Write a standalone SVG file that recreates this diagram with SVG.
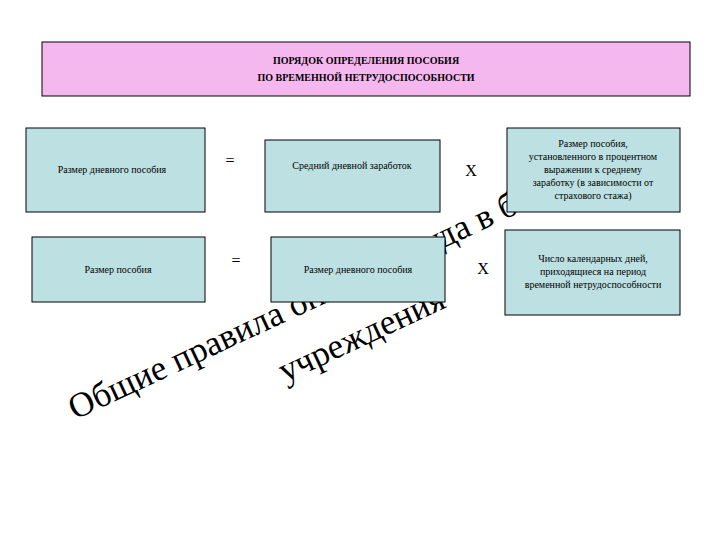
<svg xmlns="http://www.w3.org/2000/svg" width="720" height="540" viewBox="0 0 720 540">
<style>
.b{fill:#bde0e3;stroke:#000;stroke-width:1}
.t{font-family:"Liberation Serif",serif;font-size:10px;text-anchor:middle;fill:#000}
.op{font-family:"Liberation Serif",serif;font-size:16px;text-anchor:middle;fill:#000}
.bg{font-family:"Liberation Serif",serif;font-size:35px;fill:#000}
</style>
<rect width="720" height="540" fill="#fff"/>
<g id="bgtext" transform="rotate(-25 75 420)">
<text class="bg" x="75" y="420">Общие правила оплаты труда в бюджетных</text>
<text class="bg" x="281" y="475">учреждения</text>
</g>
<g id="title"><rect x="42" y="42" width="648" height="54" fill="#f4b8ee" stroke="#000"/>
<text class="t" x="366" y="64" font-size="12" font-weight="bold">ПОРЯДОК ОПРЕДЕЛЕНИЯ ПОСОБИЯ</text>
<text class="t" x="366" y="81" font-size="12" font-weight="bold">ПО ВРЕМЕННОЙ НЕТРУДОСПОСОБНОСТИ</text></g>
<g id="n1"><rect class="b" x="26" y="128" width="179" height="84"/><text class="t" x="112" y="173">Размер дневного пособия</text></g>
<g id="n2"><rect class="b" x="265" y="140" width="175" height="72"/><text class="t" x="352" y="169">Средний дневной заработок</text></g>
<g id="n3"><rect class="b" x="507" y="128" width="173" height="84"/>
<text class="t" x="593" y="147">Размер пособия,</text><text class="t" x="593" y="160">установленного в процентном</text><text class="t" x="593" y="173">выражении к среднему</text><text class="t" x="593" y="186">заработку (в зависимости от</text><text class="t" x="593" y="199">страхового стажа)</text></g>
<g id="n4"><rect class="b" x="32" y="237" width="173" height="65"/><text class="t" x="118" y="273">Размер пособия</text></g>
<g id="n5"><rect class="b" x="271" y="237" width="174" height="65"/><text class="t" x="358" y="273">Размер дневного пособия</text></g>
<g id="n6"><rect class="b" x="505" y="230" width="175" height="85"/>
<text class="t" x="593" y="262">Число календарных дней,</text><text class="t" x="593" y="275">приходящиеся на период</text><text class="t" x="593" y="288">временной нетрудоспособности</text></g>
<g id="connectors">
<text class="op" x="230" y="166">=</text><text class="op" x="236" y="266">=</text>
<text class="op" x="471" y="176">X</text><text class="op" x="483" y="274">X</text>
</g>
</svg>
